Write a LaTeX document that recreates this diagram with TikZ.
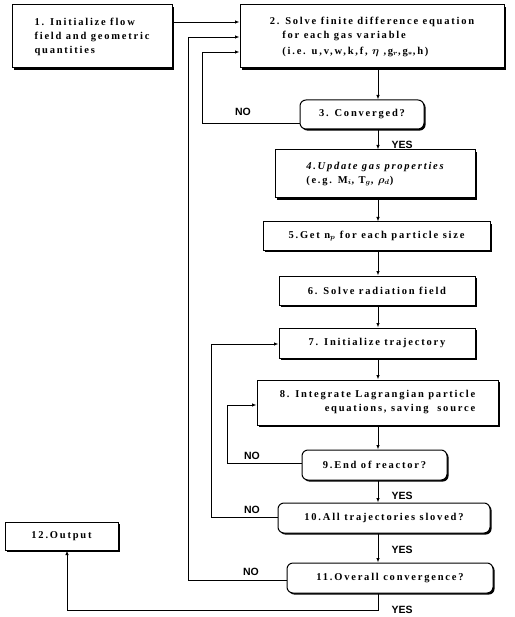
\documentclass[tikz,border=0pt]{standalone}
\usepackage{fontspec}
\setmainfont{Liberation Serif}[LetterSpace=17]
\newfontfamily\lblfont{Liberation Sans}
\usetikzlibrary{shadows,arrows.meta}
\begin{document}
\begin{tikzpicture}[x=1pt,y=-1pt,
  box/.style={draw, line width=1pt, fill=white,
    drop shadow={shadow xshift=1.6pt, shadow yshift=-1.6pt, fill=black, opacity=1},
    font=\bfseries\boldmath\fontsize{10.5}{14}\selectfont, inner sep=2pt},
  rbox/.style={box, rounded corners=6pt},
  arr/.style={line width=0.8pt, -{Latex[length=4.5pt,width=3.5pt]}},
  lbl/.style={font=\lblfont\bfseries\fontsize{10.5}{11}\selectfont, inner sep=0pt}]
\useasboundingbox (0,0) rectangle (514,617);
% nodes
\node[box, minimum width=160pt, minimum height=63pt, align=left] (b1) at (92,36.5)
  {1. Initialize flow\\field and geometric\\quantities};
\node[box, minimum width=264pt, minimum height=63pt, align=left] (b2) at (372,36.5)
  {2. Solve finite difference equation\\\hspace*{1.2em}for each gas variable\\[2pt]
   \hspace*{1.2em}(i.e. u,v,w,k,f, $\eta$ ,g$_{r}$,g$_{\ast}$,h)};
\node[rbox, minimum width=124pt, minimum height=29pt] (b3) at (362,114.5) {3. Converged?};
\node[box, minimum width=200pt, minimum height=48pt, align=left] (b4) at (375,174)
  {\itshape 4.Update gas properties\\(e.g. M$_i$, T$_g$, $\rho_d$)};
\node[box, minimum width=227pt, minimum height=28pt] (b5) at (376.5,236)
  {5.Get n$_p$ for each particle size};
\node[box, minimum width=196pt, minimum height=29pt] (b6) at (377,290.5) {6. Solve radiation field};
\node[box, minimum width=196pt, minimum height=30pt] (b7) at (377,343) {7. Initialize trajectory};
\node[box, minimum width=241pt, minimum height=45pt, align=right] (b8) at (377.5,402.5)
  {8. Integrate Lagrangian particle\\equations,\ saving\ \ source};
\node[rbox, minimum width=145pt, minimum height=30pt] (b9) at (374.5,465) {9.End of reactor?};
\node[rbox, minimum width=212pt, minimum height=30pt] (b10) at (384,518) {10.All trajectories sloved?};
\node[rbox, minimum width=206pt, minimum height=30pt] (b11) at (390,578) {11.Overall convergence?};
\node[box, minimum width=113pt, minimum height=28pt] (b12) at (61.5,536) {12.Output};
\coordinate (ax) at (378,0);
% main flow
\draw[arr] (b1.east |- 0,22) -- (b2.west |- 0,22);
\draw[arr] (b2.south -| ax) -- (b3.north -| ax);
\draw[arr] (b3.south -| ax) -- (b4.north -| ax);
\draw[arr] (b4.south -| ax) -- (b5.north -| ax);
\draw[arr] (b5.south -| ax) -- (b6.north -| ax);
\draw[arr] (b6.south -| ax) -- (b7.north -| ax);
\draw[arr] (b7.south -| ax) -- (b8.north -| ax);
\draw[arr] (b8.south -| ax) -- (b9.north -| ax);
\draw[arr] (b9.south -| ax) -- (b10.north -| ax);
\draw[arr] (b10.south -| ax) -- (b11.north -| ax);
\draw[arr] (b11.south -| ax) -- (378,610) -| (b12.south -| 67,0);
% loops
\draw[arr] (b3.west |- 0,123) -| (202,52) -- (b2.west |- 0,52);
\draw[arr] (b11.west |- 0,580) -| (188,37) -- (b2.west |- 0,37);
\draw[arr] (b10.west |- 0,517) -| (211,344) -- (b7.west |- 0,344);
\draw[arr] (b9.west |- 0,463) -| (227,405) -- (b8.west |- 0,405);
% labels
\node[lbl] (n3) at (243,112) {NO};
\node[lbl] (n9) at (252,456) {NO};
\node[lbl] (n10) at (252,510) {NO};
\node[lbl] (n11) at (251,572) {NO};
\node[lbl] (y3) at (402,145) {YES};
\node[lbl] (y9) at (402,496) {YES};
\node[lbl] (y10) at (402,550) {YES};
\node[lbl] (y11) at (402,610) {YES};
\end{tikzpicture}
\end{document}
